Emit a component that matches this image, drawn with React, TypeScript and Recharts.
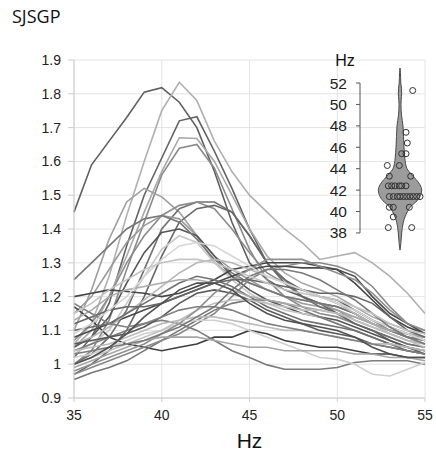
import React from 'react';
import {
  LineChart, Line, XAxis, YAxis, CartesianGrid, Label,
  ComposedChart, Area, Scatter, ReferenceLine,
} from 'recharts';

// ---------- main chart data ----------
const hz = [35, 36, 37, 38, 39, 40, 41, 42, 43, 44, 45, 46, 47, 48, 49, 50, 51, 52, 53, 54, 55];
const xTicks = [35, 40, 45, 50, 55];
const yTicks = [0.9, 1.0, 1.1, 1.2, 1.3, 1.4, 1.5, 1.6, 1.7, 1.8, 1.9];

const s01 = [1.45, 1.59, 1.66, 1.73, 1.805, 1.818, 1.775, 1.70, 1.57, 1.42, 1.30, 1.25, 1.22, 1.20, 1.18, 1.17, 1.15, 1.12, 1.10, 1.09, 1.08];
const s02 = [1.06, 1.12, 1.26, 1.44, 1.60, 1.75, 1.834, 1.78, 1.66, 1.57, 1.50, 1.45, 1.40, 1.36, 1.31, 1.32, 1.33, 1.30, 1.26, 1.21, 1.15];
const s03 = [1.02, 1.08, 1.18, 1.35, 1.50, 1.61, 1.72, 1.732, 1.63, 1.52, 1.40, 1.30, 1.25, 1.22, 1.20, 1.19, 1.16, 1.13, 1.11, 1.09, 1.07];
const s04 = [1.05, 1.10, 1.20, 1.32, 1.45, 1.57, 1.67, 1.668, 1.60, 1.50, 1.40, 1.32, 1.27, 1.24, 1.22, 1.20, 1.17, 1.14, 1.12, 1.10, 1.08];
const s05 = [1.00, 1.04, 1.13, 1.28, 1.42, 1.56, 1.639, 1.65, 1.58, 1.46, 1.34, 1.25, 1.20, 1.17, 1.15, 1.14, 1.12, 1.10, 1.08, 1.06, 1.05];
const s06 = [1.10, 1.22, 1.37, 1.48, 1.52, 1.495, 1.45, 1.38, 1.30, 1.26, 1.24, 1.22, 1.20, 1.18, 1.17, 1.16, 1.14, 1.12, 1.10, 1.08, 1.06];
const s07 = [1.00, 1.03, 1.08, 1.16, 1.28, 1.40, 1.46, 1.48, 1.48, 1.45, 1.38, 1.30, 1.25, 1.20, 1.17, 1.15, 1.12, 1.10, 1.08, 1.06, 1.05];
const s08 = [1.07, 1.12, 1.20, 1.30, 1.38, 1.44, 1.47, 1.48, 1.46, 1.40, 1.33, 1.27, 1.24, 1.22, 1.20, 1.18, 1.16, 1.13, 1.10, 1.08, 1.07];
const s09 = [0.97, 1.00, 1.04, 1.10, 1.20, 1.32, 1.42, 1.46, 1.47, 1.45, 1.38, 1.30, 1.24, 1.20, 1.18, 1.15, 1.12, 1.10, 1.07, 1.05, 1.03];
const s10 = [1.15, 1.20, 1.28, 1.36, 1.41, 1.44, 1.43, 1.38, 1.32, 1.28, 1.25, 1.22, 1.20, 1.19, 1.18, 1.16, 1.13, 1.11, 1.09, 1.07, 1.06];
const s11 = [1.05, 1.08, 1.14, 1.24, 1.33, 1.39, 1.40, 1.38, 1.32, 1.26, 1.22, 1.19, 1.17, 1.15, 1.14, 1.13, 1.11, 1.09, 1.07, 1.05, 1.04];
const s12 = [1.03, 1.06, 1.10, 1.18, 1.26, 1.34, 1.38, 1.36, 1.30, 1.25, 1.21, 1.18, 1.16, 1.15, 1.14, 1.12, 1.10, 1.08, 1.06, 1.05, 1.04];
const s13 = [1.25, 1.30, 1.35, 1.40, 1.43, 1.44, 1.42, 1.37, 1.31, 1.27, 1.24, 1.22, 1.20, 1.19, 1.18, 1.17, 1.15, 1.12, 1.10, 1.08, 1.07];
const s14 = [1.20, 1.21, 1.22, 1.215, 1.21, 1.20, 1.21, 1.23, 1.25, 1.28, 1.29, 1.30, 1.30, 1.30, 1.29, 1.28, 1.24, 1.19, 1.14, 1.11, 1.09];
const s15 = [1.17, 1.13, 1.08, 1.06, 1.05, 1.04, 1.05, 1.06, 1.08, 1.08, 1.10, 1.09, 1.07, 1.06, 1.05, 1.05, 1.04, 1.03, 1.03, 1.02, 1.02];
const s16 = [0.955, 0.975, 0.99, 1.01, 1.04, 1.07, 1.10, 1.13, 1.16, 1.18, 1.19, 1.19, 1.18, 1.16, 1.14, 1.12, 1.10, 1.08, 1.06, 1.05, 1.04];
const s17 = [0.97, 0.99, 1.01, 1.03, 1.05, 1.07, 1.09, 1.12, 1.15, 1.20, 1.25, 1.28, 1.29, 1.30, 1.30, 1.29, 1.27, 1.23, 1.17, 1.12, 1.10];
const s18 = [1.08, 1.10, 1.12, 1.14, 1.16, 1.18, 1.20, 1.22, 1.24, 1.26, 1.28, 1.29, 1.29, 1.285, 1.285, 1.28, 1.26, 1.20, 1.15, 1.12, 1.09];
const s19 = [1.04, 1.06, 1.08, 1.10, 1.12, 1.13, 1.12, 1.10, 1.07, 1.04, 1.02, 0.998, 0.985, 0.985, 0.985, 0.99, 1.005, 1.01, 1.01, 1.01, 1.00];
const s20 = [1.02, 1.03, 1.05, 1.07, 1.09, 1.10, 1.12, 1.13, 1.13, 1.12, 1.10, 1.08, 1.06, 1.04, 1.02, 1.015, 1.00, 0.97, 0.965, 0.985, 1.005];
const s21 = [1.06, 1.08, 1.11, 1.15, 1.19, 1.23, 1.27, 1.30, 1.31, 1.30, 1.28, 1.26, 1.24, 1.22, 1.20, 1.18, 1.15, 1.12, 1.09, 1.07, 1.06];
const s22 = [1.10, 1.11, 1.12, 1.15, 1.18, 1.21, 1.24, 1.26, 1.25, 1.23, 1.20, 1.17, 1.15, 1.13, 1.12, 1.11, 1.10, 1.08, 1.06, 1.04, 1.03];
const s23 = [1.13, 1.16, 1.20, 1.22, 1.23, 1.24, 1.25, 1.25, 1.24, 1.22, 1.20, 1.19, 1.18, 1.17, 1.16, 1.15, 1.14, 1.12, 1.10, 1.09, 1.08];
const s24 = [1.06, 1.07, 1.08, 1.09, 1.11, 1.14, 1.18, 1.21, 1.22, 1.21, 1.19, 1.16, 1.14, 1.12, 1.10, 1.09, 1.08, 1.06, 1.05, 1.04, 1.03];
const s25 = [1.00, 1.02, 1.04, 1.06, 1.08, 1.10, 1.13, 1.16, 1.18, 1.19, 1.19, 1.18, 1.17, 1.16, 1.16, 1.15, 1.13, 1.11, 1.09, 1.07, 1.05];
const s26 = [0.98, 1.00, 1.02, 1.04, 1.06, 1.09, 1.12, 1.16, 1.21, 1.25, 1.28, 1.31, 1.31, 1.31, 1.29, 1.27, 1.25, 1.21, 1.16, 1.12, 1.10];
const s27 = [1.12, 1.14, 1.16, 1.17, 1.17, 1.18, 1.20, 1.22, 1.24, 1.25, 1.25, 1.24, 1.23, 1.22, 1.21, 1.21, 1.20, 1.18, 1.14, 1.10, 1.08];
const s28 = [1.04, 1.05, 1.06, 1.08, 1.10, 1.12, 1.13, 1.14, 1.14, 1.13, 1.12, 1.11, 1.10, 1.10, 1.09, 1.08, 1.07, 1.06, 1.06, 1.05, 1.04];
const s29 = [1.18, 1.15, 1.12, 1.11, 1.12, 1.14, 1.16, 1.17, 1.17, 1.16, 1.14, 1.12, 1.11, 1.10, 1.09, 1.08, 1.07, 1.06, 1.05, 1.04, 1.03];
const s30 = [0.99, 1.01, 1.03, 1.05, 1.07, 1.08, 1.08, 1.08, 1.07, 1.06, 1.05, 1.05, 1.04, 1.04, 1.04, 1.04, 1.03, 1.03, 1.02, 1.02, 1.01];
const s31 = [1.09, 1.12, 1.16, 1.20, 1.26, 1.31, 1.35, 1.36, 1.35, 1.32, 1.29, 1.26, 1.24, 1.22, 1.20, 1.18, 1.16, 1.13, 1.11, 1.09, 1.07];
const s32 = [1.03, 1.04, 1.05, 1.06, 1.07, 1.09, 1.11, 1.14, 1.17, 1.22, 1.26, 1.28, 1.28, 1.27, 1.25, 1.22, 1.19, 1.15, 1.11, 1.08, 1.06];
const s33 = [1.00, 1.02, 1.05, 1.09, 1.14, 1.18, 1.22, 1.24, 1.24, 1.22, 1.18, 1.15, 1.13, 1.12, 1.11, 1.10, 1.08, 1.05, 1.03, 1.02, 1.02];
const s34 = [1.15, 1.18, 1.22, 1.25, 1.28, 1.30, 1.31, 1.31, 1.30, 1.28, 1.26, 1.24, 1.22, 1.21, 1.20, 1.19, 1.17, 1.15, 1.12, 1.10, 1.09];

const seriesList = [s01, s02, s03, s04, s05, s06, s07, s08, s09, s10, s11, s12, s13, s14, s15, s16, s17,
  s18, s19, s20, s21, s22, s23, s24, s25, s26, s27, s28, s29, s30, s31, s32, s33, s34];
const seriesColors = [
  '#5f5f5f', '#b0b0b0', '#626262', '#a8a8a8', '#8a8a8a', '#a0a0a0', '#707070', '#8c8c8c', '#666666',
  '#9a9a9a', '#555555', '#c8c8c8', '#777777', '#454545', '#3f3f3f', '#777777', '#888888', '#4a4a4a',
  '#7c7c7c', '#cfcfcf', '#b8b8b8', '#707070', '#aaaaaa', '#5a5a5a', '#c0c0c0', '#909090', '#666666',
  '#bbbbbb', '#808080', '#a5a5a5', '#d5d5d5', '#7a7a7a', '#505050', '#c4c4c4',
];

// ---------- inset violin data ----------
const violinHz = [36.4, 37, 38, 39, 40, 40.5, 41, 41.5, 42, 42.5, 43, 43.5, 44, 44.5, 45, 46, 47, 48, 48.5, 49, 50, 50.5, 51, 51.5, 52, 53, 53.4];
const violinHalfWidth = [0, 0.8, 1.7, 3.3, 7.5, 11, 17, 20.5, 21.7, 20, 16, 11, 7, 5.5, 4.8, 4, 3.5, 3, 2.3, 1.5, 1, 1.2, 1.7, 1.5, 0.8, 0.4, 0];
const peakHz = [51.3, 47.4, 46.4, 45.4, 45.4, 44.3, 44.3, 43.3, 43.3,
  42.4, 42.4, 42.4, 42.4, 42.4, 42.4,
  41.4, 41.4, 41.4, 41.4, 41.4, 41.4, 41.4, 41.4, 41.4, 41.4,
  40.4, 40.4, 40.4, 39.5, 38.5, 38.5];
const peakJitter = [12.7, 6, 7.3, 1.7, 6, -12.7, -0.7, -10.7, 10.7,
  -11.7, -8.3, -5, -0.7, 1.7, 6,
  -10.7, -6.7, -2.7, 0, 3.3, 6.7, 10, 13.3, 16.7, 20,
  -10.7, -6.7, 9.3, -6.7, -11.7, 11.7];
const insetTicks = [38, 40, 42, 44, 46, 48, 50, 52];

const mainData = hz.map((h, i) => {
  const row: Record<string, number> = { hz: h };
  seriesList.forEach((s, k) => { row['s' + k] = s[i]; });
  return row;
});
const violinData = violinHz.map((h, i) => ({ hz: h, range: [-violinHalfWidth[i], violinHalfWidth[i]] }));
const pointData = peakHz.map((h, i) => ({ hz: h, jx: peakJitter[i] }));

const FONT = '"Liberation Sans", Arial, sans-serif';

const fmtY = (v: number) => (Math.abs(v - 1) < 1e-9 ? '1' : v.toFixed(1));

export default function App() {
  return (
    <div style={{ position: 'absolute', left: 0, top: 0, width: 436, height: 454, background: '#fff' }}>
      <div style={{
        position: 'absolute', left: 12, top: 4, fontFamily: '"Open Sans", sans-serif',
        fontSize: 18, color: '#111', lineHeight: 'normal',
      }}>SJSGP</div>

      <div style={{ position: 'absolute', left: 0, top: 0 }}>
        <LineChart width={436} height={454} data={mainData}
          margin={{ top: 60, right: 11, bottom: 26, left: 0 }}>
          <CartesianGrid stroke="#e4e4e4" strokeWidth={1} />
          <XAxis dataKey="hz" type="number" domain={[35, 55]} ticks={xTicks} height={30}
            stroke="#cccccc" tickSize={4} tickMargin={8}
            tick={{ fill: '#222', fontSize: 14, fontFamily: FONT }}>
            <Label value="Hz" position="bottom" offset={5}
              style={{ fill: '#111', fontSize: 21, fontFamily: FONT }} />
          </XAxis>
          <YAxis type="number" domain={[0.9, 1.9]} ticks={yTicks} width={74}
            stroke="#cccccc" tickSize={6} tickMargin={7} tickFormatter={fmtY}
            tick={{ fill: '#222', fontSize: 14, fontFamily: FONT }} />
          {seriesList.map((_, k) => (
            <Line key={k} dataKey={'s' + k} type="linear" stroke={seriesColors[k]}
              strokeWidth={1.6} dot={false} isAnimationActive={false} />
          ))}
        </LineChart>
      </div>

      <div style={{
        position: 'absolute', left: 325, top: 53, width: 40, textAlign: 'center',
        fontFamily: FONT, fontSize: 16, lineHeight: '16px', color: '#111',
      }}>Hz</div>

      <div style={{ position: 'absolute', left: 300, top: 0 }}>
        <ComposedChart width={130} height={270} layout="vertical"
          margin={{ top: 61.6, right: 5, bottom: 15.6, left: 0 }}>
          <XAxis type="number" dataKey="jx" domain={[-40, 25]} hide allowDataOverflow />
          <YAxis type="number" dataKey="hz" domain={[36, 54]} ticks={insetTicks} width={60}
            reversed axisLine={false} tickLine={{ stroke: '#555' }} tickSize={4} tickMargin={9}
            allowDataOverflow interval={0}
            tick={{ fill: '#222', fontSize: 15.5, fontFamily: FONT }} />
          <ReferenceLine segment={[{ x: -40, y: 38 }, { x: -40, y: 52 }]} stroke="#555" />
          <Area data={violinData} dataKey="range" type="monotone" fill="#9c9c9c" fillOpacity={1}
            stroke="#4a4a4a" strokeWidth={1} isAnimationActive={false} />
          <Scatter data={pointData} isAnimationActive={false}
            shape={(p: any) => (
              <circle cx={p.cx} cy={p.cy} r={3} fill="none" stroke="#333" strokeWidth={1} />
            )} />
        </ComposedChart>
      </div>
    </div>
  );
}
